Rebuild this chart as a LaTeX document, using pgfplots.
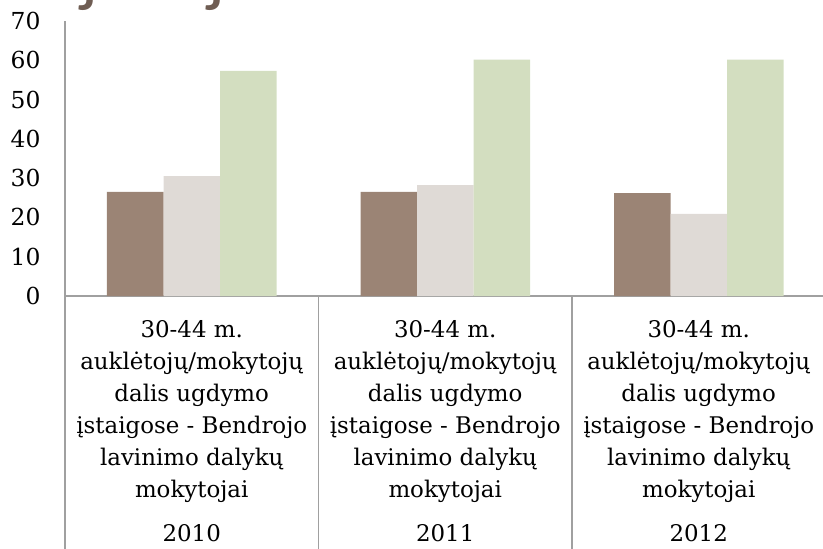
\documentclass[border=0pt]{standalone}
\usepackage{fontspec}
\setmainfont{DejaVu Serif}
\newfontfamily\titlefont{Lato}
\usepackage{pgfplots}
\pgfplotsset{compat=1.18}
\definecolor{cbrown}{HTML}{9B8475}
\definecolor{cgray}{HTML}{DFDAD6}
\definecolor{cgreen}{HTML}{D3DEC0}
\definecolor{cline}{HTML}{A0A0A0}
\definecolor{ctitle}{HTML}{6F5D53}
\begin{document}
\begin{tikzpicture}
\begin{axis}[
  at={(65bp,253bp)}, anchor=south west,
  scale only axis, width=760.5bp, height=275bp,
  xmin=-0.5, xmax=2.5, ymin=0, ymax=70,
  ybar=0pt, bar width=56.5bp,
  axis lines*=left,
  axis line style={cline, line width=1.1bp, -},
  ytick={0,10,...,70}, xtick={0,1,2},
  major tick length=0pt,
  /pgf/number format/assume math mode=true,
  yticklabel style={font=\fontsize{23.5}{28}\selectfont, xshift=-21bp},
  xticklabel style={font=\fontsize{23}{32.2}\selectfont, align=center, anchor=north, yshift=-21bp},
  xticklabels={
    {30-44 m.\\auklėtojų/mokytojų\\dalis ugdymo\\įstaigose - Bendrojo\\lavinimo dalykų\\mokytojai\\[12pt]2010},
    {30-44 m.\\auklėtojų/mokytojų\\dalis ugdymo\\įstaigose - Bendrojo\\lavinimo dalykų\\mokytojai\\[12pt]2011},
    {30-44 m.\\auklėtojų/mokytojų\\dalis ugdymo\\įstaigose - Bendrojo\\lavinimo dalykų\\mokytojai\\[12pt]2012}},
  clip=false,
]
\addplot[fill=cbrown, draw=none] coordinates {(0,26.5) (1,26.5) (2,26.2)};
\addplot[fill=cgray, draw=none] coordinates {(0,30.5) (1,28.2) (2,20.9)};
\addplot[fill=cgreen, draw=none] coordinates {(0,57.3) (1,60.2) (2,60.2)};
\draw[cline, line width=1.1bp] (axis cs:-0.5,0) -- (axis cs:-0.5,-66);
\draw[cline, line width=1.1bp] (axis cs:0.5,0) -- (axis cs:0.5,-66);
\draw[cline, line width=1.1bp] (axis cs:1.5,0) -- (axis cs:1.5,-66);
\draw[cline, line width=1.1bp] (axis cs:2.5,0) -- (axis cs:2.5,-66);
\end{axis}
\node[font=\titlefont\fontsize{72}{72}\selectfont, text=ctitle, anchor=base, inner sep=0pt] at (90bp,551bp) {j};
\node[font=\titlefont\fontsize{72}{72}\selectfont, text=ctitle, anchor=base, inner sep=0pt] at (217bp,551bp) {j};
\pgfresetboundingbox
\path (0,0) rectangle (823bp,549bp);
\end{tikzpicture}
\end{document}
